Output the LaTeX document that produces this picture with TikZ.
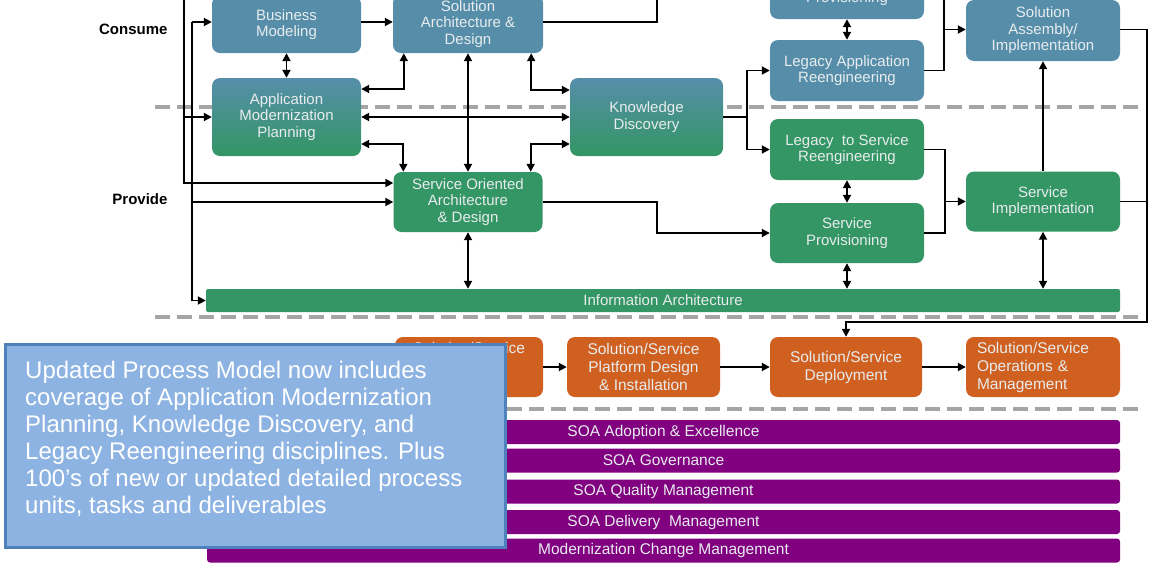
\documentclass[tikz,border=0pt]{standalone}
\usepackage{fontspec}
\setmainfont{Liberation Sans}
\usetikzlibrary{arrows.meta}
\definecolor{procblue}  {RGB}{86,142,170}
\definecolor{procgreen} {RGB}{51,150,100}
\definecolor{procorange}{RGB}{208,96,32}
\definecolor{procpurple}{RGB}{128,0,128}
\definecolor{notefill}  {RGB}{141,179,226}
\definecolor{noteline}  {RGB}{79,129,189}
\definecolor{dashgrey}  {RGB}{165,165,165}
\definecolor{boxtext}   {RGB}{232,236,238}
\tikzset{ % Setup for the process boxes
procbox/.style={rounded corners=8pt, text=boxtext, align=center, inner sep=2pt, font=\fontsize{15}{16.5}\selectfont},
bluebox/.style={procbox, fill=procblue},
greenbox/.style={procbox, fill=procgreen},
mixbox/.style={procbox, top color=procblue, bottom color=procgreen}, % blue on top, green below
orangebox/.style={procbox, fill=procorange, font=\fontsize{15.5}{18}\selectfont},
bar/.style={rounded corners=3pt, fill=procpurple, text=boxtext, minimum width=913pt, minimum height=24pt, inner sep=0pt, font=\fontsize{15.5}{17}\selectfont},
link/.style={line width=1.8pt},
arr/.style={link, -{Triangle[length=8pt,width=8pt]}},
dbl/.style={link, {Triangle[length=8pt,width=8pt]}-{Triangle[length=8pt,width=8pt]}},
sep/.style={line width=3.5pt, draw=dashgrey, dash pattern=on 15pt off 7pt},
}

\begin{document}
\begin{tikzpicture}[x=1pt,y=-1pt]
            \useasboundingbox (0,0) rectangle (1151,571);
            \draw[sep] (155,107) -- (1140,107);
            \draw[sep] (155,317) -- (1140,317);
            \draw[sep] (155,409) -- (1140,409);

            \node[font=\fontsize{15}{17}\selectfont\bfseries, anchor=east] (consume) at (171,29) {Consume};
            \node[font=\fontsize{15}{17}\selectfont\bfseries, anchor=east] (provide) at (171,199) {Provide};

            \node[bluebox, minimum width=149pt, minimum height=57pt] (bm) at (286.5,24.5) {Business\\Modeling};
            \node[mixbox, minimum width=149pt, minimum height=78pt] (amp) at (286.5,117) {Application\\Modernization\\Planning};
            \node[bluebox, minimum width=150pt, minimum height=58pt] (sad) at (468,24) {Solution\\Architecture \&\\Design};
            \node[mixbox, minimum width=153pt, minimum height=78pt] (kd) at (646.5,117) {Knowledge\\Discovery};
            \node[bluebox, minimum width=154pt, minimum height=60pt] (prov) at (847,-11) {};
            \node[procbox] (provtext) at (847,-1) {Provisioning};
            \node[bluebox, minimum width=154pt, minimum height=61pt] (lar) at (847,70.5) {Legacy Application\\Reengineering};
            \node[bluebox, minimum width=154pt, minimum height=61pt] (sai) at (1043,30.5) {Solution\\Assembly/\\Implementation};
            \node[greenbox, minimum width=154pt, minimum height=61pt] (lsr) at (847,149.5) {Legacy\ \ to Service\\Reengineering};
            \node[greenbox, minimum width=149pt, minimum height=60pt] (soad) at (468,202) {Service Oriented\\Architecture\\\& Design};
            \node[greenbox, minimum width=154pt, minimum height=60pt] (sp) at (847,233) {Service\\Provisioning};
            \node[greenbox, minimum width=154pt, minimum height=60pt] (si) at (1043,201.5) {Service\\Implementation};
            \node[greenbox, rounded corners=2pt, minimum width=914pt, minimum height=23pt, inner sep=0pt] (ia) at (663,300.5) {Information Architecture};

            \node[orangebox, minimum width=148pt, minimum height=60pt] (build) at (469,367) {Solution/Service\\Build, Test\\\& Integrate};
            \node[orangebox, minimum width=153pt, minimum height=60pt] (platform) at (643.5,367) {Solution/Service\\Platform Design\\\& Installation};
            \node[orangebox, minimum width=152pt, minimum height=60pt] (deploy) at (846,367) {Solution/Service\\Deployment};
            \node[orangebox, minimum width=154pt, minimum height=60pt, align=left, text width=132pt] (operate) at (1043,367) {Solution/Service\\Operations \&\\Management};

            \node[bar] (adopt) at (663.5,432) {SOA Adoption \& Excellence};
            \node[bar] (gov) at (663.5,460.5) {SOA Governance};
            \node[bar] (qual) at (663.5,491.5) {SOA Quality Management};
            \node[bar] (deliv) at (663.5,522) {SOA Delivery\ \ Management};
            \node[bar] (change) at (663.5,550.5) {Modernization Change Management};

            \draw[arr] (184,-10) |- ([yshift=19pt]soad.west);
            \draw[arr] (184,117) -- (amp.west);
            \draw[arr] (192,22) -- (bm.west|-0,22);
            \draw[arr] (192,22) |- (ia.west);
            \draw[arr] (192,202) -- (soad.west);

            \draw[dbl] (bm) -- (amp);
            \draw[arr] (bm.east|-0,22) -- (sad.west|-0,22);
            \draw[dbl] ([yshift=28pt]amp.east) -| ([xshift=11pt]sad.south west);
            \draw[dbl] (amp) -- (kd);
            \draw[dbl] ([yshift=-27pt]amp.east) -| ([xshift=10pt]soad.north west);
            \draw[dbl] (sad) -- (soad);
            \draw[dbl] ([xshift=-12pt]sad.south east) |- ([yshift=27pt]kd.west);
            \draw[dbl] ([xshift=-12pt]soad.north east) |- ([yshift=-27pt]kd.west);
            \draw[link] (sad.east|-0,22) -| (657,-10);
            \draw[arr] (soad.east) -| (657,233) -- (sp.west);
            \draw[dbl] (soad) -- (soad|-ia.north);

            \draw[link] (kd.east) -- (747,117);
            \draw[arr] (747,117) |- (lar.west);
            \draw[arr] (747,117) |- (lsr.west);
            \draw[dbl] (prov) -- (lar);
            \draw[dbl] (lsr) -- (sp);
            \draw[dbl] (sp) -- (sp|-ia.north);
            \draw[link] (944,-10) |- (lar.east);
            \draw[arr] (944,29.5) -- (sai.west|-0,29.5);
            \draw[link] (sp.east) -| (945,149.5) -- (lsr.east);
            \draw[arr] (945,201.5) -- (si.west);
            \draw[arr] (si) -- (sai);
            \draw[dbl] (si) -- (si|-ia.north);
            \draw[arr] (sai.east|-0,29.5) -| (1147,322) -| (deploy.north);
            \draw[link] (si.east) -- (1147,201.5);

            \draw[arr] (build) -- (platform);
            \draw[arr] (platform) -- (deploy);
            \draw[arr] (deploy) -- (operate);

            \node[draw=noteline, line width=2.5pt, fill=notefill, minimum width=500pt, minimum height=203pt, anchor=north west, inner sep=0pt] (note) at (4,343) {};
            \node[anchor=north west, text=white, align=left, inner sep=0pt, font=\fontsize{24}{27}\selectfont] (notetext) at (25,361) {Updated Process Model now includes\\coverage of Application Modernization\\Planning, Knowledge Discovery, and\\Legacy Reengineering disciplines. Plus\\100's of new or updated detailed process\\units, tasks and deliverables};
        \end{tikzpicture}
\end{document}
